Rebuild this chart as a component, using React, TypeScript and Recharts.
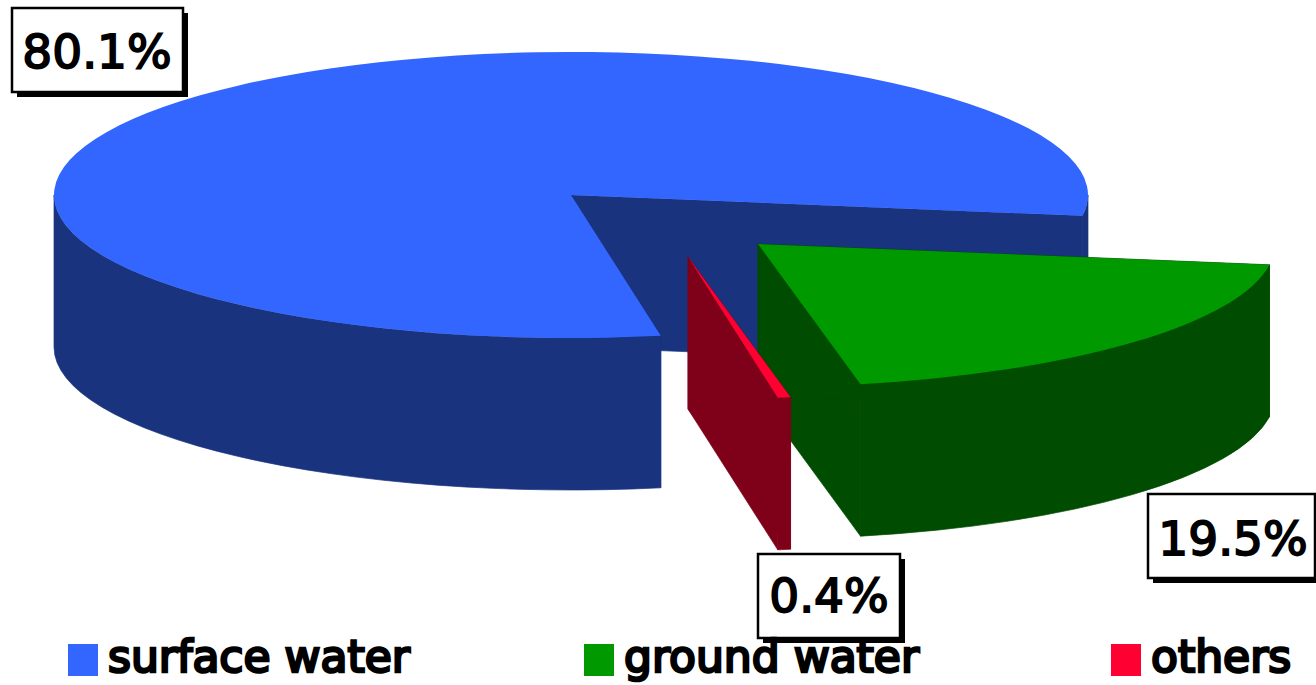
import { PieChart, Pie, Cell, Legend } from "recharts";

const categories = ["surface water", "ground water", "others"];
const shares = [80.1, 19.5, 0.4];

const topColors = ["#3366ff", "#009900", "#ff0033"];
const sideColors = ["#19337f", "#004c00", "#7f0019"];

const rows = categories.map((name, i) => ({ name, value: shares[i] }));

// squash of the disc and height of its wall
const TILT = 143 / 517;
const DEPTH = 152;
const explode = [
  { x: 0, y: 0 },
  { x: 187, y: 49 },
  { x: 117, y: 62 },
];

const labelBoxes = [
  { x: 12, y: 8, w: 171, h: 84, tx: 97, ty: 68 },
  { x: 1148, y: 494, w: 167, h: 84, tx: 1233, ty: 555 },
  { x: 758, y: 554, w: 142, h: 84, tx: 829, ty: 612 },
];
const legendX = [68, 584, 1111];

function Slice(props: any) {
  const { cx, cy, outerRadius, startAngle, endAngle, index } = props;
  const off = explode[index];
  const ox = cx + off.x;
  const oy = cy + off.y;
  const rx = outerRadius;
  const ry = outerRadius * TILT;
  const lo = Math.min(startAngle, endAngle);
  const hi = Math.max(startAngle, endAngle);

  const at = (deg: number, drop = 0) => {
    const t = (deg * Math.PI) / 180;
    return `${ox + rx * Math.cos(t)} ${oy - ry * Math.sin(t) + drop}`;
  };
  const sweep = (a: number, b: number) => (Math.abs(b - a) > 180 ? 1 : 0);

  // outer wall only where the rim faces the viewer
  const walls: string[] = [];
  [
    [-180, 0],
    [180, 360],
  ].forEach(([a, b]) => {
    const from = Math.max(a, lo);
    const to = Math.min(b, hi);
    if (to <= from) return;
    walls.push(
      `M${at(from)} A${rx} ${ry} 0 ${sweep(from, to)} 0 ${at(to)} L${at(to, DEPTH)} A${rx} ${ry} 0 ${sweep(from, to)} 1 ${at(from, DEPTH)} Z`
    );
  });

  const face = (deg: number) =>
    `M${ox} ${oy} L${at(deg)} L${at(deg, DEPTH)} L${ox} ${oy + DEPTH} Z`;

  const top = `M${ox} ${oy} L${at(lo)} A${rx} ${ry} 0 ${sweep(lo, hi)} 0 ${at(hi)} Z`;
  const side = sideColors[index];

  return (
    <g>
      <path d={face(lo)} fill={side} stroke={side} strokeWidth={0.7} />
      <path d={face(hi)} fill={side} stroke={side} strokeWidth={0.7} />
      {walls.map((d) => (
        <path key={d} d={d} fill={side} stroke={side} strokeWidth={0.7} />
      ))}
      <path d={top} fill={topColors[index]} />
    </g>
  );
}

function ValueLabel(props: any) {
  const { index, value } = props;
  const b = labelBoxes[index];
  return (
    <g>
      <rect x={b.x + 5} y={b.y + 5} width={b.w} height={b.h} fill="#000" />
      <rect x={b.x} y={b.y} width={b.w} height={b.h} fill="#fff" stroke="#000" strokeWidth={2.5} />
      <text
        x={b.tx}
        y={b.ty}
        textAnchor="middle"
        fontFamily="DejaVu Sans"
        fontSize={47}
        fill="#000"
        stroke="#000"
        strokeWidth={1.8}
      >
        {value}%
      </text>
    </g>
  );
}

function LegendRow({ payload }: any) {
  return (
    <div style={{ position: "relative", width: 1316, height: 48 }}>
      {(payload || []).map((entry: any, i: number) => (
        <div key={entry.value} style={{ position: "absolute", left: legendX[i], top: 4 }}>
          <div style={{ position: "absolute", left: 0, top: 0, width: 30, height: 32, background: topColors[i] }} />
          <div
            style={{
              position: "absolute",
              left: 40,
              top: -17,
              whiteSpace: "nowrap",
              fontFamily: "DejaVu Sans",
              fontSize: 44,
              lineHeight: "60px",
              color: "#000",
              WebkitTextStroke: "2.6px #000",
            }}
          >
            {entry.value}
          </div>
        </div>
      ))}
    </div>
  );
}

export default function App() {
  return (
    <div style={{ position: "fixed", left: 0, top: 0, width: 1316, height: 685, background: "#fff", overflow: "hidden" }}>
      <PieChart width={1316} height={685} margin={{ top: 0, right: 0, bottom: 0, left: 0 }}>
        <Pie
          data={rows}
          dataKey="value"
          nameKey="name"
          cx={571}
          cy={195}
          innerRadius={0}
          outerRadius={517}
          startAngle={280}
          endAngle={-80}
          paddingAngle={0}
          shape={Slice}
          label={ValueLabel}
          labelLine={false}
          isAnimationActive={false}
        >
          {rows.map((r, i) => (
            <Cell key={r.name} fill={topColors[i]} />
          ))}
        </Pie>
        <Legend
          content={LegendRow}
          itemSorter={null}
          wrapperStyle={{ position: "absolute", left: 0, top: 640, width: 1316, height: 45 }}
        />
      </PieChart>
    </div>
  );
}
